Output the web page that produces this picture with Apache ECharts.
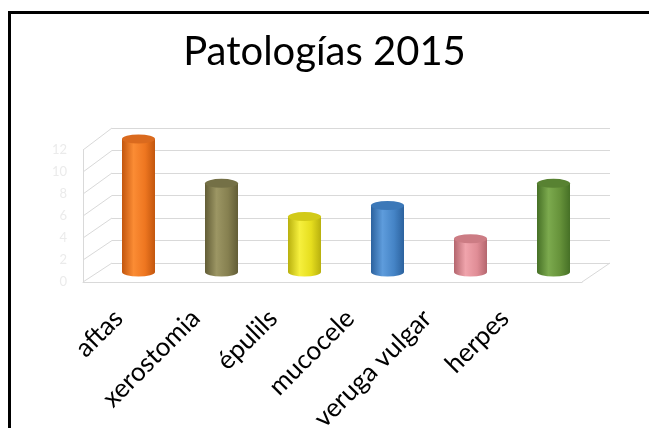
<!DOCTYPE html>
<html>
<head>
<meta charset="utf-8">
<script src="https://cdn.jsdelivr.net/npm/echarts@6/dist/echarts.min.js"></script>
<style>
  html, body { margin: 0; padding: 0; background: #fff; }
  #chart { width: 649px; height: 428px; }
</style>
</head>
<body>
<div id="chart"></div>
<script>
// Datos del gráfico
const categorias = ['aftas', 'xerostomia', 'épulils', 'mucocele', 'veruga vulgar', 'herpes'];
const valores = [12, 8, 5, 6, 3, 8];
const yMin = 0;
const yMax = 12;
const yPaso = 2;

// Colores de cada cilindro: [claro, base, oscuro, tapa]
const coloresClaro = ['#FB8C34', '#9C9664', '#F6F03E', '#5E9CDC', '#F0A4AC', '#7CAA4E'];
const coloresBase = ['#EE7620', '#868050', '#E6DE1E', '#4584C6', '#E08D96', '#66923A'];
const coloresOscuro = ['#C2560E', '#625D36', '#B8B00E', '#2C629E', '#B4666E', '#467026'];
const coloresTapa = ['#DA6A1E', '#747046', '#D2CA18', '#3C78B8', '#CC7C84', '#588232'];

const gris = '#d9d9d9';
const fuente = 'Lato, "Open Sans", sans-serif';

// Planos del falso 3D
const fondo = { left: 112, right: 39, top: 128, bottom: 165 };
const frente = { left: 83, right: 67, top: 150, bottom: 146 };

const chart = echarts.init(document.getElementById('chart'));

const gradiente = (i) => new echarts.graphic.LinearGradient(0, 0, 1, 0, [
  { offset: 0, color: coloresOscuro[i] },
  { offset: 0.35, color: coloresClaro[i] },
  { offset: 0.7, color: coloresBase[i] },
  { offset: 1, color: coloresOscuro[i] }
]);

const ejeY = (idx, extra) => Object.assign({
  type: 'value', gridIndex: idx, min: yMin, max: yMax, interval: yPaso,
  axisLine: { show: false }, axisTick: { show: false },
  axisLabel: { show: false }, splitLine: { show: false }
}, extra);

const ejeX = (idx, extra) => Object.assign({
  type: 'category', gridIndex: idx, data: categorias,
  axisLine: { show: false }, axisTick: { show: false },
  axisLabel: { show: false }, splitLine: { show: false }
}, extra);

const rejilla = (g) => Object.assign({ outerBoundsMode: 'none', containLabel: false }, g);

chart.setOption({
  animation: false,
  backgroundColor: '#fff',
  title: {
    text: 'Patologías 2015',
    left: 'center',
    top: 27,
    textStyle: { fontFamily: fuente, fontSize: 40, fontWeight: 'normal', color: '#000' }
  },
  grid: [
    // pared del fondo
    rejilla(fondo),
    // cilindros
    rejilla({ left: 97, right: 54, top: 139, bottom: 156 }),
    // plano frontal (etiquetas de Y)
    rejilla(frente),
    // etiquetas de categorías
    rejilla({ left: 80, right: 106, top: 148, bottom: 146 })
  ],
  xAxis: [
    ejeX(0),
    ejeX(1),
    ejeX(2, { axisLine: { show: true, lineStyle: { color: gris, width: 1 } } }),
    ejeX(3, {
      axisLabel: {
        show: true, rotate: 45, margin: 32, interval: 0,
        fontFamily: fuente, fontSize: 26, color: '#000'
      }
    })
  ],
  yAxis: [
    ejeY(0, { splitLine: { show: true, lineStyle: { color: gris, width: 1 } } }),
    ejeY(1),
    ejeY(2, {
      axisLine: { show: true, lineStyle: { color: gris, width: 1 } },
      axisLabel: { show: true, color: '#ebebeb', fontSize: 13, margin: 16, fontFamily: fuente }
    }),
    ejeY(3)
  ],
  series: [
    {
      type: 'bar',
      xAxisIndex: 1, yAxisIndex: 1,
      barWidth: 33,
      data: valores.map((v, i) => ({ value: v, itemStyle: { color: gradiente(i) } })),
      z: 2
    },
    {
      // base del cilindro
      type: 'pictorialBar',
      xAxisIndex: 1, yAxisIndex: 1,
      symbol: 'circle',
      symbolSize: [33, 9],
      symbolPosition: 'start',
      symbolOffset: [0, '50%'],
      data: valores.map((v, i) => ({ value: v, itemStyle: { color: gradiente(i) } })),
      z: 1
    },
    {
      // tapa del cilindro
      type: 'pictorialBar',
      xAxisIndex: 1, yAxisIndex: 1,
      symbol: 'circle',
      symbolSize: [33, 9],
      symbolPosition: 'end',
      symbolOffset: [0, '-50%'],
      data: valores.map((v, i) => ({ value: v, itemStyle: { color: coloresTapa[i] } })),
      z: 3
    }
  ]
});

// Líneas oblicuas de la pared lateral y del piso, calculadas con las escalas
const yFrente = (v) => chart.convertToPixel({ yAxisIndex: 2 }, v);
const yFondo = (v) => chart.convertToPixel({ yAxisIndex: 0 }, v);
const ancho = chart.getWidth();
const alto = chart.getHeight();

const lineas = [];
for (let v = yMin; v <= yMax; v += yPaso) {
  lineas.push({
    type: 'line', silent: true,
    shape: { x1: frente.left, y1: yFrente(v), x2: fondo.left, y2: yFondo(v) },
    style: { stroke: gris, lineWidth: 1 }
  });
}
lineas.push({
  type: 'line', silent: true,
  shape: { x1: ancho - frente.right, y1: yFrente(yMin), x2: ancho - fondo.right, y2: yFondo(yMin) },
  style: { stroke: gris, lineWidth: 1 }
});

// Marco negro (izquierda y arriba)
lineas.push({
  type: 'polyline', silent: true,
  shape: { points: [[9.5, alto], [9.5, 12.5], [ancho, 12.5]] },
  style: { stroke: '#000', lineWidth: 3, fill: null }
});

chart.setOption({ graphic: lineas });
</script>
</body>
</html>
